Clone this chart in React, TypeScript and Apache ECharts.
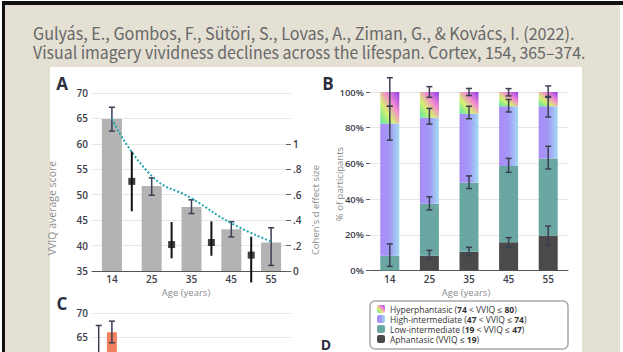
import React, { useEffect, useRef } from 'react';
import * as echarts from 'echarts';

// ---------- data ----------
const titleLines = [
  'Gulyás, E., Gombos, F., Sütöri, S., Lovas, A., Ziman, G., & Kovács, I. (2022).',
  'Visual imagery vividness declines across the lifespan. Cortex, 154, 365–374.',
];
const ages = ['14', '25', '35', '45', '55'];

// Panel A: VVIQ average score
const vviqMean = [64.9, 51.7, 47.6, 43.2, 40.6];
const vviqLow = [62.5, 49.9, 46.3, 41.7, 36.1];
const vviqHigh = [67.2, 53.3, 49.0, 44.7, 43.5];
const fitCurve = [64.9, 53.7, 49.3, 44.4, 40.8];
// Cohen's d between consecutive age groups (position = boundary index)
const cohenPos = [1, 2, 3, 4];
const cohenD = [0.705, 0.208, 0.224, 0.125];
const cohenLow = [0.47, 0.1, 0.12, -0.09];
const cohenHigh = [0.94, 0.385, 0.39, 0.27];
const cohenTicks = [0, 0.2, 0.4, 0.6, 0.8, 1];

// Panel B: % of participants
const aphantasic = [0, 8.3, 10.5, 15.8, 19.5];
const lowInt = [8.3, 29.1, 38.7, 42.7, 43.3];
const highInt = [74, 48.2, 38.6, 33.5, 29.2];
const hyper = [17.7, 14.4, 12.2, 8, 8];
// error bars in cumulative %
const aphErr: (number[] | null)[] = [null, [6.3, 11.3], [8.3, 13], [13, 18.4], [14.3, 24.9]];
const lowErr: (number[] | null)[] = [[2.3, 14.9], [33.9, 41.3], [45.9, 53], [55, 62.8], [56.9, 69.6]];
const highErr: (number[] | null)[] = [[73, 92], [82, 90.8], [85, 92], [88.8, 95.8], [86, 97]];
const hyperErr: (number[] | null)[] = [[92, 108], [97, 103], [98, 102], [97.8, 101.9], [97.5, 103.4]];

const legendNames = [
  'Hyperphantasic (74 < VVIQ ≤ 80)',
  'High-intermediate (47 < VVIQ ≤ 74)',
  'Low-intermediate (19 < VVIQ ≤ 47)',
  'Aphantasic (VVIQ ≤ 19)',
];

// Panel C (only top part visible)
const cFirst = [58, null, null, null, null];
const cFirstLow = [48.6, null, null, null, null];
const cFirstHigh = [67.4, null, null, null, null];
const cSecond = [66.0, null, null, null, null];
const cSecondLow = [63.8, null, null, null, null];
const cSecondHigh = [68.3, null, null, null, null];
const cThird = [null, null, null, null, null];
const cVisibleTicks = [65, 70];

const cTicksFont = { fontFamily: 'Open Sans', fontWeight: 600, fontSize: 10, color: '#3b3d4a' };
const NAVY = '#3b3f52';

function errRender(capHalf: number, color: string, width: number, offsetPx = 0) {
  return (params: any, api: any) => {
    const x = api.value(0);
    const lo = api.coord([x, api.value(1)]);
    const hi = api.coord([x, api.value(2)]);
    const px = lo[0] + offsetPx;
    const style = { stroke: color, lineWidth: width };
    const children: any[] = [
      { type: 'line', shape: { x1: px, y1: lo[1], x2: px, y2: hi[1] }, style },
    ];
    if (capHalf > 0) {
      children.push({ type: 'line', shape: { x1: px - capHalf, y1: lo[1], x2: px + capHalf, y2: lo[1] }, style });
      children.push({ type: 'line', shape: { x1: px - capHalf, y1: hi[1], x2: px + capHalf, y2: hi[1] }, style });
    }
    return { type: 'group', children };
  };
}

export default function App() {
  const ref = useRef<HTMLDivElement>(null);
  useEffect(() => {
    const chart = echarts.init(ref.current!, null, { renderer: 'svg' });
    const ctx = document.createElement('canvas').getContext('2d')!;
    const titleFont = '17px "Noto Sans CJK JP"';
    ctx.font = titleFont;
    const targetW = [542, 553];
    const scales = titleLines.map((t, i) => targetW[i] / ctx.measureText(t).width);

    const highGrad = new echarts.graphic.LinearGradient(0, 0, 1, 0, [
      { offset: 0, color: '#a88bf7' },
      { offset: 0.5, color: '#a498f6' },
      { offset: 1, color: '#a2dcf3' },
    ]);
    const hyperGrad = new echarts.graphic.LinearGradient(0, 1, 1, 0, [
      { offset: 0, color: '#55e6a2' },
      { offset: 0.35, color: '#d6f070' },
      { offset: 0.65, color: '#f28ad0' },
      { offset: 1, color: '#8a3cf0' },
    ]);

    const toErr = (lo: (number | null)[], hi: (number | null)[]) =>
      lo.map((l, i) => (l == null ? null : [i, l, hi[i]])).filter(Boolean);

    const bErrData = [aphErr, lowErr, highErr, hyperErr].flatMap((arr) =>
      arr.map((e, i) => (e ? [i, e[0], e[1]] : null)).filter(Boolean)
    );

    const axisName = (text: string, x: number, y: number, rot = 0, size = 10) => ({
      type: 'text', x, y, rotation: rot,
      style: { text, fill: '#8b8b8b', fontFamily: 'Open Sans', fontSize: size, align: 'center', verticalAlign: 'middle' },
    });
    const letter = (text: string, x: number, y: number, size = 17) => ({
      type: 'text', x, y,
      style: { text, fill: '#2b2f40', fontFamily: 'Open Sans', fontWeight: 'bold', fontSize: size, align: 'center', verticalAlign: 'middle' },
    });

    const option: any = {
      animation: false,
      backgroundColor: 'transparent',
      textStyle: { fontFamily: 'Open Sans' },
      graphic: [
        ...titleLines.map((t, i) => ({
          type: 'text', x: 33, y: 33 + i * 18.5, scaleX: scales[i],
          style: { text: t, fill: '#686868', fontFamily: 'Noto Sans CJK JP', fontSize: 17, align: 'left', verticalAlign: 'middle' },
        })),
        letter('A', 62, 83),
        letter('B', 328, 83),
        letter('C', 62, 303),
        letter('D', 326, 344, 14),
        axisName('VVIQ average score', 52, 208, Math.PI / 2, 10.5),
        axisName("Cohen's d effect size", 315, 210, Math.PI / 2, 9.5),
        axisName('% of participants', 339, 184, Math.PI / 2, 9.5),
        axisName('Age (years)', 186, 292, 0, 9.5),
        axisName('Age (years)', 466, 292, 0, 9.5),
        {
          type: 'rect', shape: { x: 370, y: 301, width: 198, height: 48, r: 5 },
          style: { fill: '#fff', stroke: '#a8a8a8', lineWidth: 1.5 },
        },
      ],
      legend: {
        orient: 'vertical', left: 370, top: 299, padding: [5, 8, 5, 7],
        data: legendNames,
        itemWidth: 8, itemHeight: 8, itemGap: 0, icon: 'roundRect',
        textStyle: {
          fontFamily: 'Open Sans', fontSize: 8.5, color: '#333', lineHeight: 10,
          rich: { b: { fontFamily: 'Open Sans', fontSize: 8.5, fontWeight: 'bold', color: '#333', lineHeight: 10 } },
        },
        formatter: (name: string) => name.replace(/(\d+)/g, '{b|$1}'),
      },
      grid: [
        { left: 92, top: 93, width: 199, height: 178, outerBoundsMode: 'none' },
        { left: 370, top: 92, width: 198, height: 178.5, outerBoundsMode: 'none' },
        { left: 92, top: 313, width: 199, height: 144, outerBoundsMode: 'none' },
      ],
      xAxis: [
        {
          type: 'category', gridIndex: 0, data: ages,
          axisLine: { lineStyle: { color: '#555', width: 1 } }, axisTick: { show: false },
          axisLabel: { ...cTicksFont, margin: 3 },
        },
        { type: 'value', gridIndex: 0, min: 0, max: 5, show: false },
        {
          type: 'category', gridIndex: 1, data: ages,
          axisLine: { lineStyle: { color: '#555', width: 1 } }, axisTick: { show: false },
          axisLabel: { ...cTicksFont, margin: 3 },
        },
        { type: 'category', gridIndex: 2, data: ages, show: false },
      ],
      yAxis: [
        {
          type: 'value', gridIndex: 0, min: 35, max: 70, interval: 5,
          axisLine: { show: false }, axisTick: { show: false },
          splitLine: { lineStyle: { color: '#e6e6e6' } },
          axisLabel: { ...cTicksFont, margin: 4 },
        },
        {
          type: 'value', gridIndex: 0, position: 'right', min: 0, max: 1.4, interval: 0.2,
          axisLine: { show: false }, splitLine: { show: false },
          axisTick: { show: true, inside: true, length: 5, customValues: cohenTicks, lineStyle: { color: '#666' } },
          axisLabel: {
            ...cTicksFont, margin: 2, customValues: cohenTicks,
            formatter: (v: number) => (v === 0 ? '0' : Math.abs(v - 1) < 1e-6 ? '1' : '.' + Math.round(v * 10)),
          },
        },
        {
          type: 'value', gridIndex: 1, min: 0, max: 100, interval: 20,
          axisLine: { show: false },
          axisTick: { show: true, length: 4, lineStyle: { color: '#666' } },
          splitLine: { lineStyle: { color: '#e6e6e6' } },
          axisLabel: { ...cTicksFont, fontSize: 9.5, margin: 6, formatter: '{value}%' },
        },
        {
          type: 'value', gridIndex: 2, min: 40, max: 70, interval: 5,
          axisLine: { show: false }, axisTick: { show: false },
          splitLine: { lineStyle: { color: '#e6e6e6' } },
          axisLabel: { ...cTicksFont, margin: 4, customValues: cVisibleTicks },
        },
      ],
      series: [
        // Panel A
        {
          name: 'VVIQ', type: 'bar', xAxisIndex: 0, yAxisIndex: 0, data: vviqMean,
          barWidth: 20, itemStyle: { color: '#b3b3b3' }, z: 2,
        },
        {
          name: 'VVIQ error', type: 'custom', xAxisIndex: 0, yAxisIndex: 0, z: 3,
          data: toErr(vviqLow, vviqHigh), renderItem: errRender(3, NAVY, 1.5),
        },
        {
          name: 'Fit', type: 'line', xAxisIndex: 0, yAxisIndex: 0, data: fitCurve, smooth: 0.5,
          symbol: 'none', lineStyle: { color: '#22a6b0', width: 2, type: [2, 2] }, z: 4,
        },
        {
          name: 'Cohen error', type: 'custom', xAxisIndex: 1, yAxisIndex: 1, z: 5,
          data: cohenPos.map((p, i) => [p, cohenLow[i], cohenHigh[i]]),
          renderItem: errRender(0, '#111', 2),
        },
        {
          name: "Cohen's d", type: 'scatter', xAxisIndex: 1, yAxisIndex: 1, z: 6,
          data: cohenPos.map((p, i) => [p, cohenD[i]]),
          symbol: 'rect', symbolSize: 7, itemStyle: { color: '#111' },
        },
        // Panel B
        {
          name: legendNames[3], type: 'bar', stack: 'b', xAxisIndex: 2, yAxisIndex: 2,
          data: aphantasic, barWidth: 19, itemStyle: { color: '#4a4a4a' },
        },
        {
          name: legendNames[2], type: 'bar', stack: 'b', xAxisIndex: 2, yAxisIndex: 2,
          data: lowInt, barWidth: 19, itemStyle: { color: '#6aa7a2' },
        },
        {
          name: legendNames[1], type: 'bar', stack: 'b', xAxisIndex: 2, yAxisIndex: 2,
          data: highInt, barWidth: 19, itemStyle: { color: highGrad },
        },
        {
          name: legendNames[0], type: 'bar', stack: 'b', xAxisIndex: 2, yAxisIndex: 2,
          data: hyper, barWidth: 19, itemStyle: { color: hyperGrad },
        },
        {
          name: 'B error', type: 'custom', xAxisIndex: 2, yAxisIndex: 2, z: 5,
          data: bErrData, renderItem: errRender(3, NAVY, 1.5),
        },
        // Panel C
        {
          name: 'C1', type: 'bar', xAxisIndex: 3, yAxisIndex: 3, data: cFirst,
          barWidth: 10, barGap: '32%', itemStyle: { color: '#5a6680' },
        },
        {
          name: 'C2', type: 'bar', xAxisIndex: 3, yAxisIndex: 3, data: cSecond,
          barWidth: 10, barGap: '32%', itemStyle: { color: '#f2805f' },
        },
        {
          name: 'C3', type: 'bar', xAxisIndex: 3, yAxisIndex: 3, data: cThird,
          barWidth: 10, barGap: '32%', itemStyle: { color: '#999' },
        },
        {
          name: 'C1 error', type: 'custom', xAxisIndex: 3, yAxisIndex: 3, z: 5,
          data: toErr(cFirstLow, cFirstHigh), renderItem: errRender(3, NAVY, 1.5, -13.2),
        },
        {
          name: 'C2 error', type: 'custom', xAxisIndex: 3, yAxisIndex: 3, z: 5,
          data: toErr(cSecondLow, cSecondHigh), renderItem: errRender(3, NAVY, 1.5, 0),
        },
      ],
    };
    chart.setOption(option);
    return () => chart.dispose();
  }, []);

  return (
    <div style={{ position: 'fixed', left: 0, top: 0, width: 623, height: 352, background: '#fff', overflow: 'hidden' }}>
      <div style={{ position: 'absolute', left: 5, top: 5, width: 615, height: 347, background: '#e4e0d4' }} />
      <div style={{ position: 'absolute', left: 2, top: 1, width: 621, height: 4, background: '#111' }} />
      <div style={{ position: 'absolute', left: 2, top: 1, width: 3, height: 351, background: '#111' }} />
      <div style={{ position: 'absolute', left: 50, top: 67, width: 532, height: 285, background: '#fff' }} />
      <div ref={ref} style={{ position: 'absolute', left: 0, top: 0, width: 623, height: 352 }} />
    </div>
  );
}
